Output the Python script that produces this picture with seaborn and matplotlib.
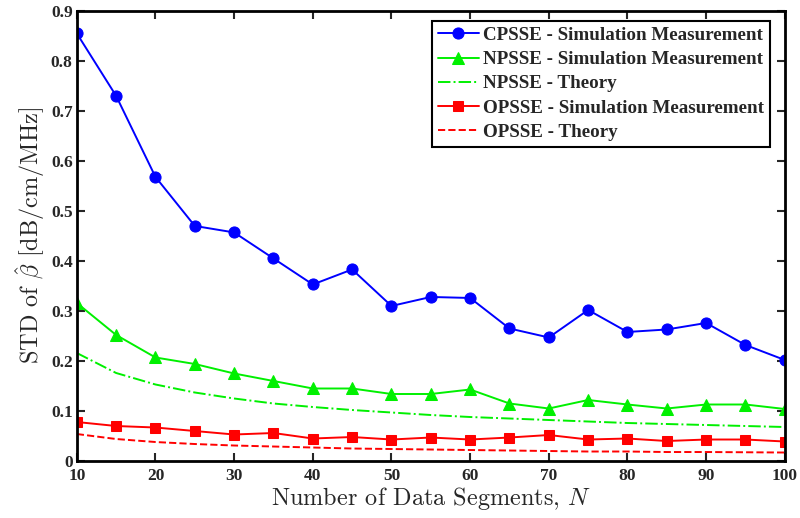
import numpy as np
import matplotlib
matplotlib.use("Agg")
import matplotlib.pyplot as plt
import seaborn as sns

# --- data ---
n_segments = [10, 15, 20, 25, 30, 35, 40, 45, 50, 55, 60, 65, 70, 75, 80, 85, 90, 95, 100]
cpsse_sim = [0.855, 0.730, 0.568, 0.470, 0.457, 0.405, 0.353, 0.383, 0.310, 0.328,
             0.326, 0.265, 0.247, 0.302, 0.258, 0.263, 0.276, 0.232, 0.202]
npsse_sim = [0.316, 0.252, 0.207, 0.194, 0.175, 0.160, 0.145, 0.145, 0.134, 0.134,
             0.143, 0.115, 0.105, 0.122, 0.113, 0.105, 0.113, 0.113, 0.104]
npsse_theory = [0.216, 0.176, 0.153, 0.137, 0.125, 0.115, 0.108, 0.102, 0.097, 0.092,
                0.088, 0.085, 0.082, 0.079, 0.076, 0.074, 0.072, 0.070, 0.068]
opsse_sim = [0.078, 0.070, 0.067, 0.060, 0.053, 0.056, 0.045, 0.048, 0.043, 0.047,
             0.043, 0.047, 0.052, 0.043, 0.045, 0.040, 0.043, 0.043, 0.039]
opsse_theory = [0.054, 0.044, 0.038, 0.034, 0.031, 0.029, 0.027, 0.025, 0.024, 0.023,
                0.022, 0.021, 0.020, 0.019, 0.019, 0.018, 0.018, 0.0175, 0.017]

labels = ["CPSSE - Simulation Measurement", "NPSSE - Simulation Measurement",
          "NPSSE - Theory", "OPSSE - Simulation Measurement", "OPSSE - Theory"]

sns.set_style("ticks")
plt.rcParams["font.family"] = ["Liberation Serif", "DejaVu Serif"]
plt.rcParams["mathtext.fontset"] = "cm"

fig = plt.figure(figsize=(8, 5.18), dpi=100)
ax = fig.add_axes([0.096, 0.110, 0.885, 0.869])

sns.lineplot(x=n_segments, y=cpsse_sim, ax=ax, color="#0000ff", marker="o", markersize=8,
             markeredgecolor="#0000ff", linewidth=1.4, label=labels[0])
sns.lineplot(x=n_segments, y=npsse_sim, ax=ax, color="#00f000", marker="^", markersize=8,
             markeredgecolor="#00f000", linewidth=1.4, label=labels[1])
sns.lineplot(x=n_segments, y=npsse_theory, ax=ax, color="#00f000", linestyle="-.",
             linewidth=1.4, label=labels[2])
sns.lineplot(x=n_segments, y=opsse_sim, ax=ax, color="#ff0000", marker="s", markersize=7,
             markeredgecolor="#ff0000", linewidth=1.4, label=labels[3])
sns.lineplot(x=n_segments, y=opsse_theory, ax=ax, color="#ff0000", linestyle="--",
             linewidth=1.4, label=labels[4])

ax.set_xlim(10, 100)
ax.set_ylim(0, 0.9)
ax.set_xticks(range(10, 101, 10))
ax.set_yticks(np.arange(0, 0.91, 0.1))
ax.set_yticklabels(["0"] + [f"{v:.1f}" for v in np.arange(0.1, 0.91, 0.1)])
ax.tick_params(direction="in", top=True, right=True, length=6, width=1.5, labelsize=12.5)
ax.tick_params(axis="x", pad=5)
ax.tick_params(axis="y", pad=3)
for lbl in ax.get_xticklabels() + ax.get_yticklabels():
    lbl.set_fontweight("bold")
for sp in ax.spines.values():
    sp.set_visible(True)
    sp.set_linewidth(2)
    sp.set_color("black")

# axis labels in Computer Modern, as in the original
ax.set_xlabel(r"Number of Data Segments, $N$", fontsize=17.5, family="cmr10", labelpad=1)
ax.set_ylabel(r"STD of $\hat{\beta}$ [dB/cm/MHz]", fontsize=17.5, family="cmr10", labelpad=3)

leg = ax.legend(loc="upper right", bbox_to_anchor=(0.987, 0.99), frameon=True, fancybox=False,
                prop={"weight": "bold", "size": 13.7}, handlelength=2.2, handletextpad=0.2,
                borderpad=0.3, labelspacing=0.36, borderaxespad=0.3)
leg.get_frame().set_edgecolor("black")
leg.get_frame().set_linewidth(1.5)
leg.get_frame().set_alpha(1)

fig.savefig("out.png", dpi=100)
